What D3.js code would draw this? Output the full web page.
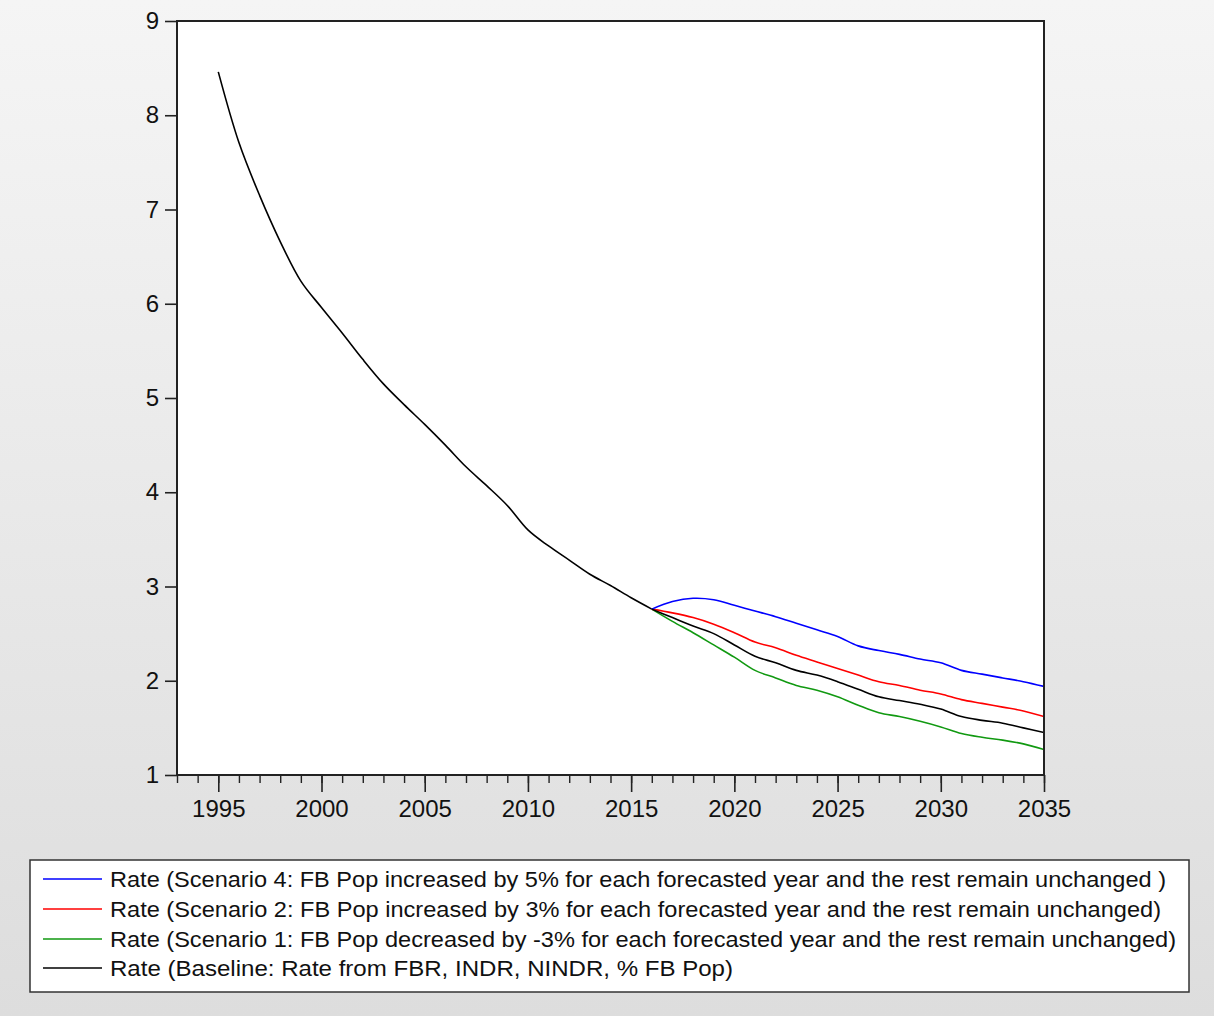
<!DOCTYPE html>
<html>
<head>
<meta charset="utf-8">
<script src="https://cdn.jsdelivr.net/npm/d3@7/dist/d3.min.js"></script>
<style>
  html, body { margin: 0; padding: 0; }
  body { width: 1214px; height: 1016px; overflow: hidden; }
  svg text { font-family: "Liberation Sans", Arial, sans-serif; fill: #111; }
</style>
</head>
<body>
<svg id="chart" width="1214" height="1016"></svg>
<script>
// Historical rate, 1995-2016
const histYears = [1995,1996,1997,1998,1999,2000,2001,2002,2003,2004,2005,2006,2007,2008,2009,2010,2011,2012,2013,2014,2015,2016];
const histRate  = [8.46,7.71,7.15,6.66,6.24,5.96,5.69,5.41,5.15,4.93,4.72,4.50,4.27,4.07,3.86,3.60,3.43,3.28,3.13,3.01,2.88,2.76];

// Forecast horizon, 2016-2035
const fcYears = [2016,2017,2018,2019,2020,2021,2022,2023,2024,2025,2026,2027,2028,2029,2030,2031,2032,2033,2034,2035];
const scenario4 = [2.76,2.84,2.875,2.86,2.80,2.74,2.68,2.61,2.54,2.47,2.37,2.32,2.28,2.23,2.19,2.11,2.07,2.03,1.99,1.94];
const scenario2 = [2.76,2.72,2.67,2.60,2.51,2.41,2.35,2.27,2.20,2.13,2.06,1.99,1.95,1.90,1.86,1.80,1.76,1.72,1.68,1.62];
const scenario1 = [2.76,2.63,2.51,2.38,2.25,2.11,2.03,1.95,1.90,1.83,1.74,1.66,1.62,1.57,1.51,1.44,1.40,1.37,1.33,1.27];
const baseline  = [2.76,2.67,2.58,2.50,2.38,2.26,2.19,2.11,2.06,1.99,1.91,1.83,1.79,1.75,1.70,1.62,1.58,1.55,1.50,1.45];

const seriesNames = [
  "Rate (Scenario 4: FB Pop increased by 5% for each forecasted year and the rest remain unchanged )",
  "Rate (Scenario 2: FB Pop increased by 3% for each forecasted year and the rest remain unchanged)",
  "Rate (Scenario 1: FB Pop decreased by -3% for each forecasted year and the rest remain unchanged)",
  "Rate (Baseline: Rate from FBR, INDR, NINDR, % FB Pop)"
];
const yTicks = [1,2,3,4,5,6,7,8,9];
const xMajorTicks = [1995,2000,2005,2010,2015,2020,2025,2030,2035];

const svg = d3.select("#chart");

// Window background with a soft vertical gradient
const defs = svg.append("defs");
const grad = defs.append("linearGradient").attr("id", "bg").attr("x1", 0).attr("y1", 0).attr("x2", 0).attr("y2", 1);
grad.append("stop").attr("offset", "0%").attr("stop-color", "#f5f5f5");
grad.append("stop").attr("offset", "100%").attr("stop-color", "#dddddd");
svg.append("rect").attr("width", 1214).attr("height", 1016).attr("fill", "url(#bg)");

const plot = { left: 177, right: 1044, top: 21, bottom: 775 };
const x = d3.scaleLinear().domain([1993, 2035]).range([plot.left, plot.right]);
const y = d3.scaleLinear().domain([1, 9]).range([plot.bottom, plot.top]);

// Plot area
svg.append("rect")
  .attr("x", plot.left).attr("y", plot.top)
  .attr("width", plot.right - plot.left).attr("height", plot.bottom - plot.top)
  .attr("fill", "#fff");

// Y axis
const yAxis = svg.append("g")
  .attr("transform", `translate(${plot.left},0)`)
  .call(d3.axisLeft(y).tickValues(yTicks).tickSize(12).tickPadding(6).tickFormat(d3.format("d")));
yAxis.select(".domain").remove();
yAxis.selectAll("line").attr("stroke", "#222").attr("stroke-width", 1.6);
yAxis.selectAll("text").style("font-size", "24px").attr("fill", "#111");

// X axis: minor yearly ticks, then labelled major ticks
const xMinor = svg.append("g")
  .attr("transform", `translate(0,${plot.bottom})`)
  .call(d3.axisBottom(x).tickValues(d3.range(1993, 2036)).tickSize(8).tickFormat(""));
xMinor.select(".domain").remove();
xMinor.selectAll("line").attr("stroke", "#222").attr("stroke-width", 1.4);

const xMajor = svg.append("g")
  .attr("transform", `translate(0,${plot.bottom})`)
  .call(d3.axisBottom(x).tickValues(xMajorTicks).tickSize(17).tickPadding(8).tickFormat(d3.format("d")));
xMajor.select(".domain").remove();
xMajor.selectAll("line").attr("stroke", "#222").attr("stroke-width", 1.6);
xMajor.selectAll("text").style("font-size", "24px").attr("fill", "#111");

// Series
const line = d3.line()
  .x(d => x(d[0]))
  .y(d => y(d[1]))
  .curve(d3.curveCatmullRom.alpha(0.5));

const colors = ["#0000ff", "#ff0000", "#119911", "#000000"];
const histPts = histYears.map((yr, i) => [yr, histRate[i]]);
const fcSeries = [scenario4, scenario2, scenario1, baseline];

const clip = defs.append("clipPath").attr("id", "plotClip");
clip.append("rect").attr("x", plot.left).attr("y", plot.top)
  .attr("width", plot.right - plot.left).attr("height", plot.bottom - plot.top);

const lines = svg.append("g").attr("clip-path", "url(#plotClip)");
lines.append("path")
  .datum(histPts)
  .attr("d", line)
  .attr("fill", "none").attr("stroke", "#000").attr("stroke-width", 1.6);

// forecast paths; baseline drawn last so it sits on top
[2, 1, 0, 3].forEach(k => {
  lines.append("path")
    .datum(fcYears.map((yr, i) => [yr, fcSeries[k][i]]))
    .attr("d", line)
    .attr("fill", "none").attr("stroke", colors[k]).attr("stroke-width", 1.6);
});

// Frame
svg.append("rect")
  .attr("x", plot.left).attr("y", plot.top)
  .attr("width", plot.right - plot.left).attr("height", plot.bottom - plot.top)
  .attr("fill", "none").attr("stroke", "#222").attr("stroke-width", 2);

// Legend
const legend = svg.append("g");
legend.append("rect")
  .attr("x", 30).attr("y", 860).attr("width", 1159).attr("height", 132)
  .attr("fill", "#fff").attr("stroke", "#333").attr("stroke-width", 1.5);

const rowY = [879, 909, 939, 968];
const textLen = [1056, 1051, 1066, 623];
seriesNames.forEach((name, i) => {
  legend.append("line")
    .attr("x1", 43).attr("x2", 102).attr("y1", rowY[i]).attr("y2", rowY[i])
    .attr("stroke", colors[i]).attr("stroke-width", 1.6);
  legend.append("text")
    .attr("x", 110).attr("y", rowY[i]).attr("dy", "0.36em")
    .attr("textLength", textLen[i]).attr("lengthAdjust", "spacingAndGlyphs")
    .style("font-size", "22px")
    .text(name);
});
</script>
</body>
</html>
